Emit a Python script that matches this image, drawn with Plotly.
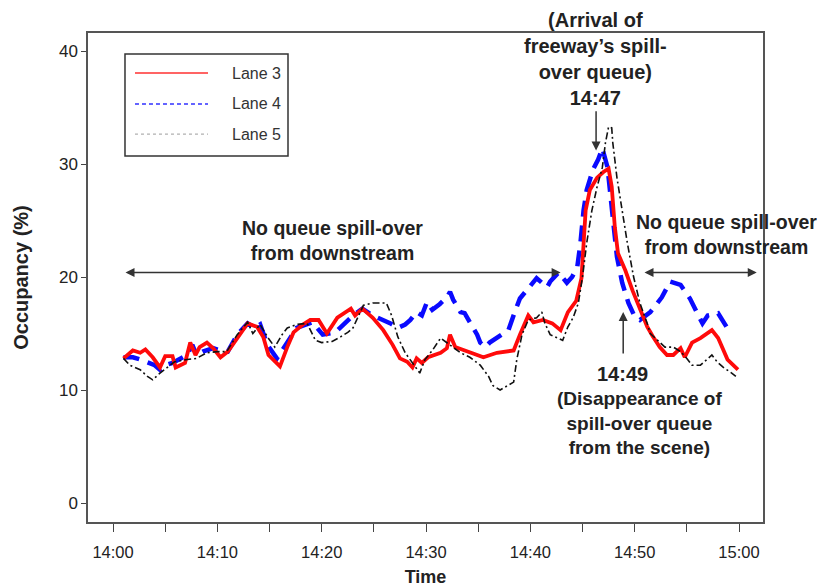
import plotly.graph_objects as go

# minutes after 14:00
lane3_t = [1.0,1.9,2.6,3.1,3.8,4.5,5.0,5.7,6.0,6.9,7.4,7.9,8.3,9.0,9.6,10.3,11.0,12.2,12.9,13.8,14.4,14.9,16.0,16.7,17.3,18.2,18.9,19.7,20.5,21.5,22.4,22.8,23.2,23.9,24.9,25.9,26.8,27.5,28.2,28.7,29.1,29.6,30.2,31.4,32.0,32.3,32.8,33.9,34.9,35.5,36.8,38.4,39.0,39.8,40.3,41.2,42.1,42.9,43.6,44.4,44.9,45.1,45.3,45.7,46.4,47.0,47.5,47.8,48.1,48.4,49.1,49.8,50.5,51.2,51.7,52.4,53.1,53.7,54.4,54.8,55.5,56.3,57.4,58.0,58.9,59.6,59.9]
lane3_v = [12.8,13.5,13.3,13.6,12.9,12.0,13.0,13.0,12.0,12.4,14.2,13.1,13.8,14.2,13.7,12.9,13.4,15.0,15.9,15.6,14.7,13.1,12.1,13.8,15.1,15.8,16.2,16.2,15.0,16.4,16.9,17.2,16.6,17.2,16.4,15.3,14.0,12.8,12.5,12.0,12.8,12.4,12.9,13.3,13.7,14.9,13.8,13.4,13.1,12.9,13.3,13.5,14.9,16.6,16.0,16.2,15.9,15.3,16.9,17.9,19.9,23.0,25.9,27.7,28.8,29.3,29.6,28.0,24.4,22.1,20.6,18.8,17.1,15.6,14.8,13.8,13.1,13.1,13.7,12.9,14.2,14.6,15.3,14.6,12.7,12.0,11.8]

lane4_t = [1.0,1.9,2.6,3.3,4.0,4.5,5.0,5.7,6.4,7.1,7.6,8.0,8.6,9.6,10.3,11.0,11.9,12.9,13.6,14.1,14.8,15.7,16.7,17.6,19.1,20.1,21.3,22.5,23.0,23.9,24.9,26.6,27.3,28.0,28.5,29.1,29.6,30.1,30.6,31.3,32.0,32.3,32.6,33.3,33.7,34.2,34.9,35.2,35.7,36.1,36.9,37.9,38.5,39.0,39.8,40.6,41.6,41.9,42.7,43.5,44.0,44.5,44.8,45.1,45.4,46.0,46.5,46.9,47.4,47.7,48.0,48.3,48.8,49.4,50.0,50.5,51.5,52.6,53.4,54.4,55.3,56.1,56.5,57.0,58.0,59.0]
lane4_v = [12.9,12.9,12.7,12.5,12.2,11.8,12.2,12.4,12.7,13.1,14.0,13.1,13.4,13.7,13.5,13.4,14.9,15.9,15.5,15.8,14.0,12.8,14.2,15.5,16.0,14.9,15.1,16.2,16.6,17.2,16.6,15.9,15.5,15.8,16.2,16.9,16.6,17.8,17.1,17.6,18.2,18.7,18.0,16.9,16.8,16.0,14.9,14.2,13.8,14.2,14.7,15.3,16.9,18.1,19.0,19.9,19.1,19.6,20.4,19.5,20.0,20.9,23.0,25.9,27.7,29.5,30.4,31.4,29.7,27.4,24.4,21.8,19.5,17.7,16.5,16.2,16.9,18.2,19.6,19.3,18.1,16.6,15.9,16.6,16.8,15.3]

lane5_t = [1.0,1.6,2.6,3.3,3.8,4.5,5.2,5.9,7.1,8.0,9.0,10.0,10.9,11.9,12.9,13.4,14.1,14.8,15.5,16.2,16.7,17.6,18.6,19.4,20.0,21.0,21.8,22.5,23.0,24.0,24.9,26.2,26.7,27.3,28.0,28.7,29.4,29.9,30.6,31.4,32.3,33.3,34.2,35.2,36.0,36.4,37.1,37.8,38.4,38.7,39.2,39.8,40.6,41.1,41.4,41.9,42.6,43.1,43.6,44.1,44.6,45.0,45.4,45.9,46.4,46.9,47.2,47.5,47.8,47.9,48.3,48.8,49.3,49.9,50.5,51.2,51.5,52.2,52.9,53.7,54.4,55.0,55.5,56.3,56.9,57.4,57.9,58.5,59.3,59.7]
lane5_v = [12.8,12.2,11.8,11.2,10.9,11.5,12.0,12.5,12.7,12.8,13.3,13.4,13.4,14.9,16.0,15.0,15.8,14.7,13.8,14.9,15.5,15.8,15.9,14.4,14.2,14.3,14.7,15.1,15.5,17.5,17.7,17.7,16.6,14.7,13.3,12.4,11.5,12.7,13.5,14.6,14.0,13.3,12.9,12.2,11.2,10.4,10.0,10.4,10.7,12.7,14.9,16.2,16.4,16.9,15.9,14.9,14.6,14.4,15.6,16.4,17.7,20.0,23.0,25.9,28.0,29.7,31.9,33.3,33.2,31.9,28.8,25.9,23.0,20.0,17.7,15.9,15.0,14.4,13.8,13.8,13.4,12.8,12.2,12.2,12.7,13.1,12.5,12.0,11.5,11.2]

tick_minutes = [0, 5, 10, 15, 20, 25, 30, 35, 40, 45, 50, 55, 60]
tick_labels = ["14:00", "", "14:10", "", "14:20", "", "14:30", "", "14:40", "", "14:50", "", "15:00"]
y_ticks = [0, 10, 20, 30, 40]

series_names = ["Lane 3", "Lane 4", "Lane 5"]

FONT = "Liberation Sans, Arial, sans-serif"
TXT = "#222222"

fig = go.Figure()
fig.add_trace(go.Scatter(x=lane4_t, y=lane4_v, mode="lines", name=series_names[1],
                         line=dict(color="#0a0aff", width=4.5, dash="16px,9px"), showlegend=False))
fig.add_trace(go.Scatter(x=lane3_t, y=lane3_v, mode="lines", name=series_names[0],
                         line=dict(color="#ff0a0a", width=3.8), showlegend=False))
fig.add_trace(go.Scatter(x=lane5_t, y=lane5_v, mode="lines", name=series_names[2],
                         line=dict(color="#111111", width=1.6, dash="7px,3px,2px,3px"), showlegend=False))

# custom legend box
shapes = [dict(type="rect", xref="paper", yref="paper", x0=0.0548, x1=0.2963, y0=0.7485, y1=0.957,
               line=dict(color="#333333", width=1.5), fillcolor="white", layer="above")]
leg_y = [0.918, 0.855, 0.793]
leg_styles = [dict(color="#ff3030", width=1.5), dict(color="#3030ff", width=1.5, dash="4px,3px"),
              dict(color="#b0b0b0", width=1.2, dash="dot")]
for yy, st in zip(leg_y, leg_styles):
    shapes.append(dict(type="line", xref="paper", yref="paper", x0=0.0696, x1=0.1778, y0=yy, y1=yy,
                       line=st, layer="above"))

annotations = []
for yy, nm in zip(leg_y, series_names):
    annotations.append(dict(xref="paper", yref="paper", x=0.289, y=yy, xanchor="right", yanchor="middle",
                            text=nm, showarrow=False, font=dict(size=16, color="#333333", family=FONT)))

def bf(s):
    return dict(size=s, color=TXT, family=FONT)

annotations += [
    dict(x=21.0, y=23.2, text="<b>No queue spill-over<br>from downstream</b>", showarrow=False, font=bf(19.5)),
    dict(x=58.8, y=23.8, text="<b>No queue spill-over<br>from downstream</b>", showarrow=False, font=bf(19.5)),
    dict(x=46.2, y=39.3, text="<b>(Arrival of<br>freeway\u2019s spill-<br>over queue)<br>14:47</b>",
         showarrow=False, font=bf(20), yanchor="middle"),
    dict(x=48.8, y=11.4, text="<b>14:49</b>", showarrow=False, font=bf(20)),
    dict(x=50.5, y=7.1, text="<b>(Disappearance of<br>spill-over queue<br>from the scene)</b>",
         showarrow=False, font=bf(19)),
    # double arrows
    dict(x=42.9, y=20.4, ax=1.05, ay=20.4, axref="x", ayref="y", text="", showarrow=True,
         arrowhead=2, startarrowhead=2, arrowside="end+start", arrowsize=1.2, arrowwidth=1.5,
         arrowcolor="#333333", standoff=0, startstandoff=0),
    dict(x=61.7, y=20.4, ax=50.8, ay=20.4, axref="x", ayref="y", text="", showarrow=True,
         arrowhead=2, startarrowhead=2, arrowside="end+start", arrowsize=1.2, arrowwidth=1.5,
         arrowcolor="#333333", standoff=0, startstandoff=0),
    # single arrows
    dict(x=46.3, y=31.2, ax=46.3, ay=34.8, axref="x", ayref="y", text="", showarrow=True,
         arrowhead=2, arrowsize=1.2, arrowwidth=1.5, arrowcolor="#333333", standoff=0),
    dict(x=48.9, y=16.9, ax=48.9, ay=13.1, axref="x", ayref="y", text="", showarrow=True,
         arrowhead=2, arrowsize=1.2, arrowwidth=1.5, arrowcolor="#333333", standoff=0),
]

# the page body adds an 8px offset, so the figure is 8px smaller and margins shifted accordingly
fig.update_layout(
    width=817, height=579,
    margin=dict(l=80, r=62, t=25, b=65),
    plot_bgcolor="white", paper_bgcolor="white",
    font=dict(family=FONT, color=TXT),
    shapes=shapes, annotations=annotations,
    showlegend=False,
)
fig.update_xaxes(range=[-2.4, 62.3], tickvals=tick_minutes, ticktext=tick_labels, automargin=False,
                 ticks="outside", ticklen=8, tickwidth=1.2, tickcolor="#444444", ticklabelstandoff=6,
                 showline=True, linecolor="#555555", linewidth=1.5, mirror=True,
                 showgrid=False, zeroline=False, tickfont=dict(size=16.5, color=TXT),
                 title=dict(text="<b>Time</b>", font=dict(size=18, color=TXT), standoff=14))
fig.update_yaxes(range=[-1.68, 41.6], tickvals=y_ticks, automargin=False,
                 ticks="outside", ticklen=5, tickwidth=1.2,
                 tickcolor="#444444", showline=True, linecolor="#555555", linewidth=1.5, mirror=True,
                 showgrid=False, zeroline=False, tickfont=dict(size=17, color=TXT),
                 title=dict(text="<b>Occupancy (%)</b>", font=dict(size=20, color=TXT), standoff=25))

fig.write_html("out.html")
